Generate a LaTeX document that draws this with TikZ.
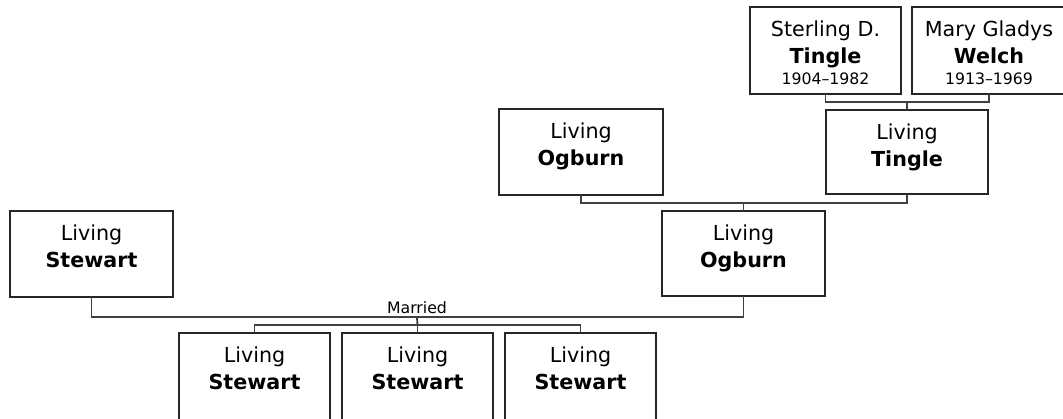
\documentclass[tikz,border=0pt]{standalone}
\usepackage{fontspec}
\setmainfont{DejaVu Sans}
\usetikzlibrary{fit,calc}
\newcommand\mainsz{\fontsize{15.5}{18}\selectfont}
\newcommand\smallsz{\fontsize{11.8}{14}\selectfont}
\tikzset{
  pbox/.style={draw=black!85, line width=1.5pt, inner sep=0pt, outer sep=0pt, rectangle, fill=white},
  conn/.style={draw=black!75, line width=1.4pt},
  nm/.style={anchor=base, inner sep=0pt, font=\mainsz},
  nb/.style={anchor=base, inner sep=0pt, font=\mainsz\bfseries},
  dt/.style={anchor=base, inner sep=0pt, font=\smallsz},
}
\begin{document}
\begin{tikzpicture}[x=0.75pt, y=-0.75pt]
\clip (0,0) rectangle (1063,418);
\fill[white] (0,0) rectangle (1063,418);
% boxes
\node[pbox, fit={(750,7) (901,94)}] (st) {};
\node[pbox, fit={(912,7) (1066,94)}] (mw) {};
\node[pbox, fit={(826,110) (988,194)}] (lt) {};
\node[pbox, fit={(499,109) (663,195)}] (ot) {};
\node[pbox, fit={(662,211) (825,296)}] (om) {};
\node[pbox, fit={(10,211) (173,297)}] (sl) {};
\node[pbox, fit={(179,333) (330,422)}] (c1) {};
\node[pbox, fit={(342,333) (493,422)}] (c2) {};
\node[pbox, fit={(505,333) (656,422)}] (c3) {};
% texts
\node[nm] (st1) at ($(st.north)+(0,29)$) {Sterling D.};
\node[nb] (st2) at ($(st.north)+(0,56)$) {Tingle};
\node[dt] (st3) at ($(st.north)+(0,77)$) {1904–1982};
\node[nm] (mw1) at ($(mw.north)+(0,29)$) {Mary Gladys};
\node[nb] (mw2) at ($(mw.north)+(0,56)$) {Welch};
\node[dt] (mw3) at ($(mw.north)+(0,77)$) {1913–1969};
\node[nm] (lt1) at ($(lt.north)+(0,29)$) {Living};
\node[nb] (lt2) at ($(lt.north)+(0,56)$) {Tingle};
\node[nm] (ot1) at ($(ot.north)+(0,29)$) {Living};
\node[nb] (ot2) at ($(ot.north)+(0,56)$) {Ogburn};
\node[nm] (om1) at ($(om.north)+(0,29)$) {Living};
\node[nb] (om2) at ($(om.north)+(0,56)$) {Ogburn};
\node[nm] (sl1) at ($(sl.north)+(0,29)$) {Living};
\node[nb] (sl2) at ($(sl.north)+(0,56)$) {Stewart};
\node[nm] (c11) at ($(c1.north)+(0,29)$) {Living};
\node[nb] (c12) at ($(c1.north)+(0,56)$) {Stewart};
\node[nm] (c21) at ($(c2.north)+(0,29)$) {Living};
\node[nb] (c22) at ($(c2.north)+(0,56)$) {Stewart};
\node[nm] (c31) at ($(c3.north)+(0,29)$) {Living};
\node[nb] (c32) at ($(c3.north)+(0,56)$) {Stewart};
% connectors
\coordinate (j1) at ($(lt.north)+(0,-8)$);
\draw[conn] (st.south) |- (j1) -| (mw.south);
\draw[conn] (j1) -- (lt.north);
\coordinate (j2) at ($(om.north)+(0,-8)$);
\draw[conn] (ot.south) |- (j2) -| (lt.south);
\draw[conn] (j2) -- (om.north);
\coordinate (mar) at (417,317);
\draw[conn] (sl.south) |- (mar) -| (om.south);
\node[anchor=base, inner sep=0pt, font=\smallsz] (mtxt) at (417,313) {Married};
\coordinate (j3) at ($(c2.north)+(0,-8)$);
\draw[conn] (mar) -- (j3);
\draw[conn] (c1.north) |- (j3) -| (c3.north);
\draw[conn] (j3) -- (c2.north);
\end{tikzpicture}
\end{document}
